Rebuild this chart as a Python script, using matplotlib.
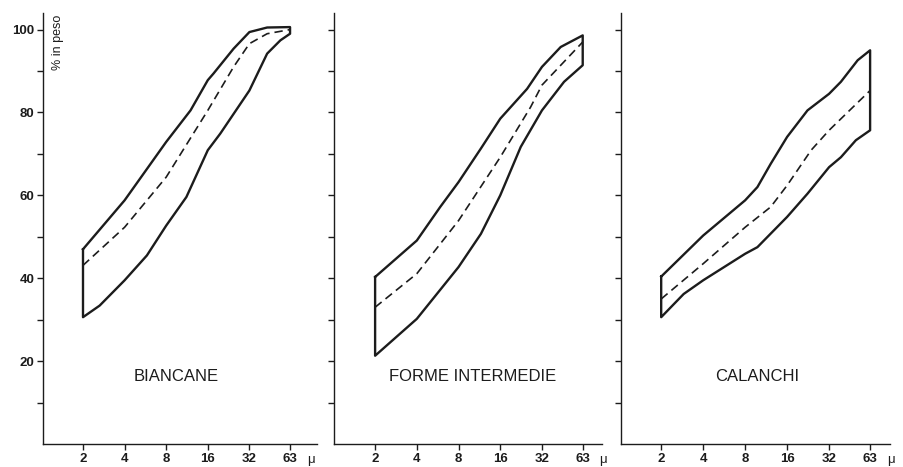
import matplotlib.pyplot as plt

# grain size (micron) tick labels
xticks = [2, 4, 8, 16, 32, 63]
xlabels = ['2', '4', '8', '16', '32', '63']
yticks = [10, 20, 30, 40, 50, 60, 70, 80, 90, 100]
ylabels = ['', '20', '', '40', '', '60', '', '80', '', '100']

# BIANCANE
bia_up_x = [2, 4, 8, 12, 16, 17.6, 24.6, 32, 43, 63]
bia_up_y = [47, 58.8, 72.9, 80.5, 87.8, 89.4, 95.4, 99.4, 100.5, 100.6]
bia_lo_x = [2, 2.64, 4, 5.8, 8, 11.2, 16, 19.7, 32, 43, 53.6, 63]
bia_lo_y = [30.6, 33.4, 39.5, 45.5, 52.7, 59.6, 70.9, 74.9, 85.3, 94.2, 97.4, 99]
bia_md_x = [2, 4, 8, 16, 24.6, 32, 43, 63]
bia_md_y = [43.1, 52.3, 64.4, 80.5, 91, 96.6, 99, 100]

# FORME INTERMEDIE
for_up_x = [2, 4, 5.9, 8, 11.6, 16, 25, 32, 43.7, 63]
for_up_y = [40.3, 49.1, 57.2, 63.2, 71.3, 78.5, 85.7, 91, 95.8, 98.6]
for_lo_x = [2, 4, 8, 11.6, 16, 22.5, 32, 46.2, 63]
for_lo_y = [21.3, 30.2, 42.7, 50.7, 60, 71.7, 80.5, 87.4, 91.4]
for_md_x = [2, 4, 8, 16, 26.5, 32, 63]
for_md_y = [33, 41.1, 53.9, 69.2, 81.3, 86.6, 97]

# CALANCHI
cal_up_x = [2, 4, 8, 9.8, 12.2, 16, 22.4, 32, 38.9, 51.3, 63]
cal_up_y = [40.4, 50.3, 58.8, 62, 67.6, 74.1, 80.5, 84.5, 87.4, 92.6, 95]
cal_lo_x = [2, 2.9, 4, 8, 9.8, 16, 22.4, 32, 38.9, 49.8, 63]
cal_lo_y = [30.6, 36.2, 39.5, 45.9, 47.5, 54.8, 60.4, 66.8, 69.2, 73.3, 75.7]
cal_md_x = [2, 4, 8, 12.2, 16, 23.8, 32, 63]
cal_md_y = [35, 43.5, 52.3, 57.2, 62.4, 70.9, 75.7, 85.3]

panels = [
    ('BIANCANE', bia_up_x, bia_up_y, bia_lo_x, bia_lo_y, bia_md_x, bia_md_y),
    ('FORME INTERMEDIE', for_up_x, for_up_y, for_lo_x, for_lo_y, for_md_x, for_md_y),
    ('CALANCHI', cal_up_x, cal_up_y, cal_lo_x, cal_lo_y, cal_md_x, cal_md_y),
]

# axes boxes in pixels (left, right), x limits, x of the panel name
boxes = [(43, 317, 1.027, 98.7, 9.4), (334, 602, 1.01, 86.8, 10.1), (621, 890, 1.03, 87.5, 9.8)]

W, H = 904, 467
ink = '#1c1c1c'
plt.rcParams['font.family'] = ['Liberation Sans', 'DejaVu Sans']

fig = plt.figure(figsize=(W / 100, H / 100), dpi=100)

for i, (name, ux, uy, lx, ly, mx, my) in enumerate(panels):
    left, right, x0, x1, name_x = boxes[i]
    ax = fig.add_axes([left / W, 1 - 444 / H, (right - left) / W, (444 - 13) / H])
    ax.set_xscale('log', base=2)
    ax.set_xlim(x0, x1)
    ax.set_ylim(0, 104)

    # closed envelope: upper, right edge, lower back, left edge
    ex = list(ux) + list(lx[::-1]) + [ux[0]]
    ey = list(uy) + list(ly[::-1]) + [uy[0]]
    ax.plot(ex, ey, color=ink, lw=1.7, solid_joinstyle='round')
    ax.plot(mx, my, color=ink, lw=1.2, dashes=(5, 3))

    ax.text(name_x, 16.2, name, ha='center', va='center', fontsize=12, color=ink)

    for s in ['top', 'right']:
        ax.spines[s].set_visible(False)
    for s in ['left', 'bottom']:
        ax.spines[s].set_color(ink)
        ax.spines[s].set_linewidth(1.0)

    ax.set_xticks(xticks)
    ax.set_xticklabels(xlabels)
    ax.xaxis.set_minor_locator(plt.NullLocator())
    ax.set_yticks(yticks)
    if i == 0:
        ax.set_yticklabels(ylabels)
    else:
        ax.set_yticklabels([])
    ax.tick_params(axis='both', direction='out', length=4.3, width=1.0,
                   color=ink, labelcolor=ink, labelsize=9.5, pad=2)
    for lab in ax.get_xticklabels() + ax.get_yticklabels():
        lab.set_fontweight('bold')

    # micron symbol after the last tick label
    ax.annotate('\u03bc', xy=(63, 0), xycoords=('data', 'axes fraction'),
                xytext=(12, -7), textcoords='offset points', ha='left', va='top',
                fontsize=9.5, color=ink)

    if i == 0:
        ax.text(0.055, 97 / 104, '% in peso', rotation=90, ha='center', va='center',
                transform=ax.transAxes, fontsize=9, color=ink)

fig.savefig('out.png', dpi=100, facecolor='white')
